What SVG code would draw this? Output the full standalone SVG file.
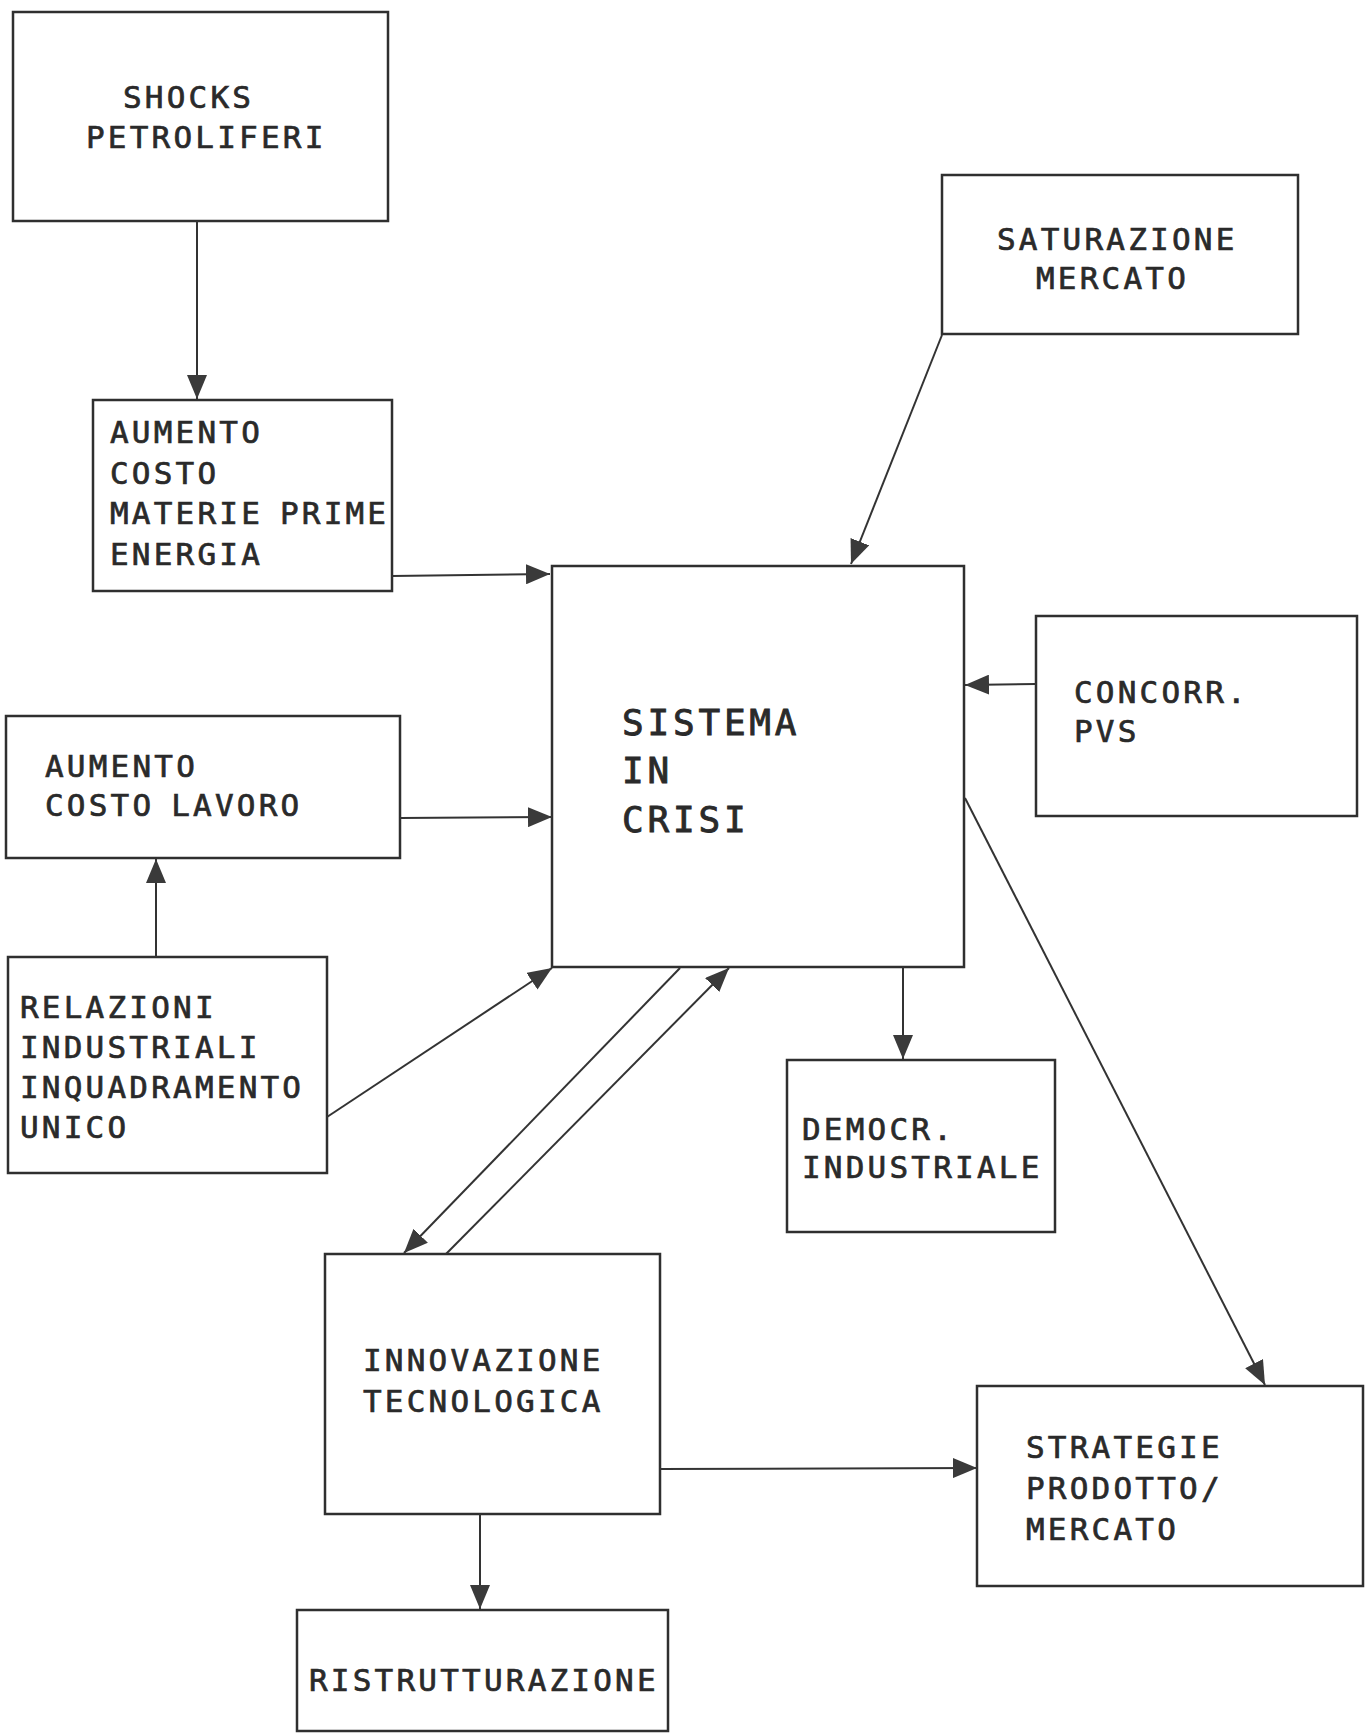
<svg xmlns="http://www.w3.org/2000/svg" width="1370" height="1733" viewBox="0 0 1370 1733">
  <style>
    .box { fill: #ffffff; stroke: #2f2f2f; stroke-width: 2.5; }
    .lbl { font-family: "DejaVu Sans Mono", "Liberation Mono", monospace; font-size: 31px; letter-spacing: 3.2px; word-spacing: -5px; fill: #2a2a2a; stroke: #2a2a2a; stroke-width: 0.7px; }
    .big { font-size: 36px; letter-spacing: 3.8px; stroke-width: 0.9px; }
    .edge { fill: none; stroke: #333333; stroke-width: 2; marker-end: url(#head); }
  </style>
  <defs>
    <marker id="head" viewBox="0 0 24 20" refX="24" refY="10" markerWidth="24" markerHeight="20" markerUnits="userSpaceOnUse" orient="auto">
      <path d="M0,0 L24,10 L0,20 Z" fill="#3a3a3a"/>
    </marker>
  </defs>
  <rect width="1370" height="1733" fill="#ffffff"/>

  <!-- nodes -->
  <g id="shocks">
    <rect class="box" x="13" y="12" width="375" height="209"/>
    <text class="lbl" x="123" y="108">SHOCKS</text>
    <text class="lbl" x="86" y="148">PETROLIFERI</text>
  </g>
  <g id="costo-materie">
    <rect class="box" x="93" y="400" width="299" height="191"/>
    <text class="lbl" x="110" y="443">AUMENTO</text>
    <text class="lbl" x="110" y="484">COSTO</text>
    <text class="lbl" x="110" y="524">MATERIE PRIME</text>
    <text class="lbl" x="110" y="565">ENERGIA</text>
  </g>
  <g id="saturazione">
    <rect class="box" x="942" y="175" width="356" height="159"/>
    <text class="lbl" x="997" y="250">SATURAZIONE</text>
    <text class="lbl" x="1036" y="289">MERCATO</text>
  </g>
  <g id="sistema">
    <rect class="box" x="552" y="566" width="412" height="401"/>
    <text class="lbl big" x="622" y="735">SISTEMA</text>
    <text class="lbl big" x="622" y="783">IN</text>
    <text class="lbl big" x="622" y="832">CRISI</text>
  </g>
  <g id="concorrenza">
    <rect class="box" x="1036" y="616" width="321" height="200"/>
    <text class="lbl" x="1074" y="703">CONCORR.</text>
    <text class="lbl" x="1074" y="742">PVS</text>
  </g>
  <g id="costo-lavoro">
    <rect class="box" x="6" y="716" width="394" height="142"/>
    <text class="lbl" x="45" y="777">AUMENTO</text>
    <text class="lbl" x="45" y="816">COSTO LAVORO</text>
  </g>
  <g id="relazioni">
    <rect class="box" x="8" y="957" width="319" height="216"/>
    <text class="lbl" x="20" y="1018">RELAZIONI</text>
    <text class="lbl" x="20" y="1058">INDUSTRIALI</text>
    <text class="lbl" x="20" y="1098">INQUADRAMENTO</text>
    <text class="lbl" x="20" y="1138">UNICO</text>
  </g>
  <g id="democrazia">
    <rect class="box" x="787" y="1060" width="268" height="172"/>
    <text class="lbl" x="802" y="1140">DEMOCR.</text>
    <text class="lbl" x="802" y="1178">INDUSTRIALE</text>
  </g>
  <g id="innovazione">
    <rect class="box" x="325" y="1254" width="335" height="260"/>
    <text class="lbl" x="363" y="1371">INNOVAZIONE</text>
    <text class="lbl" x="363" y="1412">TECNOLOGICA</text>
  </g>
  <g id="strategie">
    <rect class="box" x="977" y="1386" width="386" height="200"/>
    <text class="lbl" x="1026" y="1458">STRATEGIE</text>
    <text class="lbl" x="1026" y="1499">PRODOTTO/</text>
    <text class="lbl" x="1026" y="1540">MERCATO</text>
  </g>
  <g id="ristrutturazione">
    <rect class="box" x="297" y="1610" width="371" height="121"/>
    <text class="lbl" x="309" y="1691">RISTRUTTURAZIONE</text>
  </g>

  <!-- connectors -->
  <g id="connectors">
    <line class="edge" x1="197" y1="221" x2="197" y2="399"/>
    <line class="edge" x1="392" y1="576" x2="550" y2="574"/>
    <line class="edge" x1="942" y1="335" x2="851" y2="564"/>
    <line class="edge" x1="1036" y1="684" x2="965" y2="685"/>
    <line class="edge" x1="400" y1="818" x2="552" y2="817"/>
    <line class="edge" x1="156" y1="957" x2="156" y2="859"/>
    <line class="edge" x1="327" y1="1117" x2="552" y2="968"/>
    <line class="edge" x1="680" y1="968" x2="404" y2="1253"/>
    <line class="edge" x1="446" y1="1254" x2="729" y2="968"/>
    <line class="edge" x1="903" y1="967" x2="903" y2="1059"/>
    <line class="edge" x1="965" y1="798" x2="1265" y2="1385"/>
    <line class="edge" x1="660" y1="1469" x2="977" y2="1468"/>
    <line class="edge" x1="480" y1="1514" x2="480" y2="1609"/>
  </g>
</svg>
